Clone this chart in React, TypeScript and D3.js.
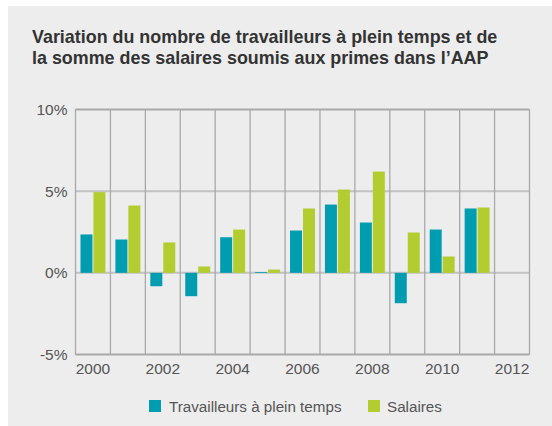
import React from 'react';
import * as d3 from 'd3';

const years = ['2000', '2001', '2002', '2003', '2004', '2005', '2006', '2007', '2008', '2009', '2010', '2011', '2012'];
const tickYears = ['2000', '2002', '2004', '2006', '2008', '2010', '2012'];
const series = ['Travailleurs à plein temps', 'Salaires'];
const travailleurs = [2.35, 2.04, -0.82, -1.43, 2.18, 0.05, 2.59, 4.18, 3.08, -1.86, 2.65, 3.94];
const salaires = [4.94, 4.12, 1.86, 0.39, 2.65, 0.2, 3.94, 5.1, 6.2, 2.47, 1.0, 4.0];
const yTicks = [10, 5, 0, -5];
const colors = ['#009caf', '#b3cc2f'];

const W = 552;
const H = 426;
const margin = { top: 109.5, right: 22.5, bottom: 71.5, left: 75.5 };
const font = '"Liberation Sans", Arial, sans-serif';

const App = () => {
  const innerW = W - margin.left - margin.right;
  const innerH = H - margin.top - margin.bottom;

  const x = d3.scaleBand().domain(years).range([0, innerW]).padding(0);
  const sub = d3.scaleBand().domain(series).range([0, x.bandwidth()]).paddingInner(1 / 13).paddingOuter(0.385);
  const y = d3.scaleLinear().domain([-5, 10]).range([innerH, 0]);

  const values = [travailleurs, salaires];
  const bounds = years.map(yr => x(yr) as number).concat([innerW]);

  return (
    <svg width={W} height={H} style={{ position: 'absolute', left: 0, top: 0 }}>
      <rect x={8} y={6} width={W - 8} height={H - 6} fill="#ededed" />
      <text x={32} y={43} fontFamily={font} fontSize={17.9} fontWeight="bold" fill="#333">
        Variation du nombre de travailleurs à plein temps et de
      </text>
      <text x={32} y={63.5} fontFamily={font} fontSize={17.9} fontWeight="bold" fill="#333">
        la somme des salaires soumis aux primes dans l’AAP
      </text>
      <g transform={`translate(${margin.left},${margin.top})`}>
        {yTicks.map(t => (
          <line key={'h' + t} x1={0} x2={innerW} y1={y(t)} y2={y(t)} stroke="#c2c2c2" strokeWidth={2} />
        ))}
        {bounds.map((b, i) => (
          <line key={'v' + i} x1={b} x2={b} y1={0} y2={innerH} stroke="#a9a9a9" strokeWidth={1.3} />
        ))}
        <line x1={0} x2={innerW} y1={0} y2={0} stroke="#a9a9a9" strokeWidth={1.3} />
        <line x1={0} x2={innerW} y1={innerH} y2={innerH} stroke="#a9a9a9" strokeWidth={1.3} />
        {values.map((vals, si) =>
          vals.map((v, i) => (
            <rect
              key={si + '-' + i}
              x={(x(years[i]) as number) + (sub(series[si]) as number)}
              y={y(Math.max(0, v))}
              width={sub.bandwidth()}
              height={Math.abs(y(v) - y(0))}
              fill={colors[si]}
            />
          ))
        )}
        {yTicks.map(t => (
          <text key={'yt' + t} x={-8} y={y(t)} dy="0.35em" textAnchor="end" fontFamily={font} fontSize={15.5} fill="#555">
            {t + '%'}
          </text>
        ))}
        {tickYears.map(yr => (
          <text key={'xt' + yr} x={(x(yr) as number) + x.bandwidth() / 2} y={innerH + 19} textAnchor="middle" fontFamily={font} fontSize={15.5} fill="#555">
            {yr}
          </text>
        ))}
      </g>
      <g>
        <rect x={149} y={400} width={12} height={12} fill={colors[0]} />
        <text x={169} y={412} fontFamily={font} fontSize={15.2} fill="#555">{series[0]}</text>
        <rect x={368} y={400} width={12} height={12} fill={colors[1]} />
        <text x={387} y={412} fontFamily={font} fontSize={15.2} fill="#555">{series[1]}</text>
      </g>
    </svg>
  );
};

export default App;
